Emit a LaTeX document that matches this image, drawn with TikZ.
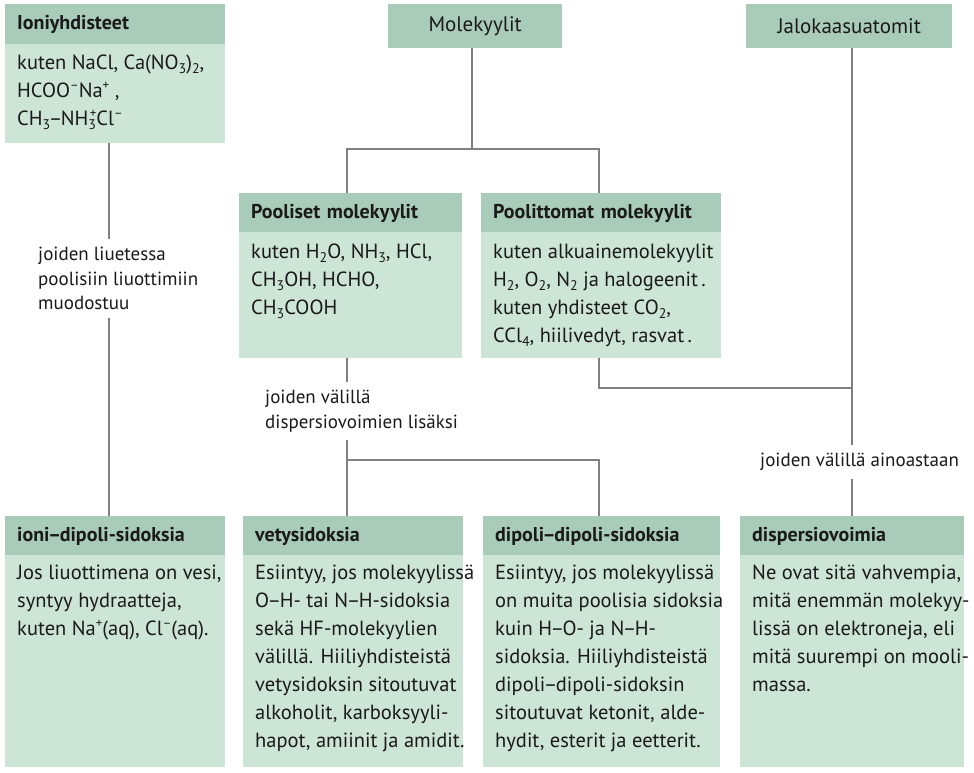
\documentclass[tikz,border=0pt]{standalone}
\usepackage{fontspec}
\setmainfont{PT Sans}
\usetikzlibrary{calc}
\definecolor{hdr}{RGB}{169,203,185}
\definecolor{bdy}{RGB}{204,229,214}
\definecolor{ln}{RGB}{128,128,128}
\definecolor{txt}{RGB}{26,26,26}
\newcommand\sub[1]{\raisebox{-4pt}{\fontsize{14}{14}\selectfont #1}}
\newcommand\sps[1]{\raisebox{8pt}{\fontsize{13}{13}\selectfont #1}}
\newcommand\subsup[2]{\makebox[0pt][l]{\sub{#1}}\hspace{1.5pt}\sps{#2}}
\newcommand\dsh{\kern-1.5pt–\kern-1.5pt}
\begin{document}
\begin{tikzpicture}[x=1pt,y=-1pt,
  hd/.style={fill=hdr, anchor=north west, inner xsep=12pt, inner ysep=0pt,
    minimum height=40pt, align=left, text=txt,
    font=\bfseries\fontsize{20}{24}\selectfont},
  tophd/.style={fill=hdr, anchor=north west, inner sep=0pt,
    minimum height=44pt, align=center, text=txt,
    font=\fontsize{21}{24}\selectfont},
  bd/.style={fill=bdy, anchor=north west, inner sep=0pt},
  bt/.style={anchor=north west, inner sep=0pt, align=left, text=txt,
    font=\fontsize{20.5}{28}\selectfont},
  lbl/.style={fill=white, anchor=north west, inner xsep=0pt, inner ysep=8pt,
    align=left, text=txt, font=\fontsize{19}{24.5}\selectfont},
  conn/.style={draw=ln, line width=2pt}
]
\useasboundingbox (0,0) rectangle (974,773);

% ---------- boxes ----------
\node[hd, text width=196pt] (ionH) at (5,4) {Ioniyhdisteet};
\node[bd, minimum width=220pt, minimum height=99pt] (ionB) at (5,44) {};
\node[tophd, minimum width=174pt] (molH) at (388,4) {Molekyylit};
\node[tophd, minimum width=206pt] (jalH) at (746,4) {Jalokaasuatomit};

\node[hd, text width=199pt] (polH) at (239,193) {Pooliset molekyylit};
\node[bd, minimum width=223pt, minimum height=126pt] (polB) at (239,232) {};
\node[hd, text width=216pt] (npoH) at (481,193) {Poolittomat molekyylit};
\node[bd, minimum width=240pt, minimum height=126pt] (npoB) at (481,232) {};

\node[hd, text width=196pt] (idH) at (5,516) {ioni\dsh dipoli-sidoksia};
\node[bd, minimum width=220pt, minimum height=212pt] (idB) at (5,555) {};
\node[hd, text width=196pt] (vetH) at (243,516) {vetysidoksia};
\node[bd, minimum width=220pt, minimum height=212pt] (vetB) at (243,555) {};
\node[hd, text width=213pt] (ddH) at (483,516) {dipoli\dsh dipoli-sidoksia};
\node[bd, minimum width=237pt, minimum height=212pt] (ddB) at (483,555) {};
\node[hd, text width=200pt] (dsH) at (740,516) {dispersiovoimia};
\node[bd, minimum width=224pt, minimum height=212pt] (dsB) at (740,555) {};

% ---------- connectors ----------
\coordinate (mj) at ($(molH.south)+(-3,101)$);
\draw[conn] ($(molH.south)+(-3,0)$) -- (mj);
\draw[conn] ($(polH.north)+(-3.5,0)$) |- (mj) -| ($(npoH.north)+(-2,0)$);

\coordinate (pj) at ($(polB.south)+(-3.5,102)$);
\draw[conn] ($(polB.south)+(-3.5,0)$) -- (pj);
\draw[conn] ($(vetH.north)+(-6,0)$) |- (pj) -| ($(ddH.north)+(-2.5,0)$);

\coordinate (nj) at ($(jalH.south)+(3,340)$);
\draw[conn] ($(jalH.south)+(3,0)$) -- ($(dsH.north)$);
\draw[conn] ($(npoB.south)+(-2,0)$) |- (nj);

\draw[conn] ($(ionB.south)+(-6,0)$) -- ($(idH.north)+(-6,0)$);

% ---------- labels ----------
\node[lbl] (l1) at (38,239) {joiden liuetessa\\poolisiin liuottimiin\\muodostuu};
\node[lbl] (l2) at (265,382) {joiden välillä\\dispersiovoimien lisäksi};
\node[lbl] (l3) at (760,445) {joiden välillä ainoastaan};

% ---------- body texts ----------
\node[bt] (ionT) at ($(ionB.north west)+(12,11)$)
  {kuten NaCl, Ca(NO\sub{3})\sub{2},\\HCOO\sps{–}Na\sps{+} ,\\CH\sub{3}\dsh NH\subsup{3}{+}Cl\sps{–}};
\node[bt] (polT) at ($(polB.north west)+(12,12)$)
  {kuten H\sub{2}O, NH\sub{3}, HCl,\\CH\sub{3}OH, HCHO,\\CH\sub{3}COOH};
\node[bt] (npoT) at ($(npoB.north west)+(12,12)$)
  {kuten alkuainemolekyylit\\H\sub{2}, O\sub{2}, N\sub{2} ja halogeenit\,.\\kuten yhdisteet CO\sub{2},\\CCl\sub{4}, hiilivedyt, rasvat\,.};
\node[bt] (idT) at ($(idB.north west)+(12,10)$)
  {Jos liuottimena on vesi,\\syntyy hydraatteja,\\kuten Na\sps{+}(aq), Cl\sps{–}(aq).};
\node[bt] (vetT) at ($(vetB.north west)+(12,10)$)
  {Esiintyy, jos molekyylissä\\O\dsh H- tai N\dsh H-sidoksia\\sekä HF-molekyylien\\välillä. Hiiliyhdisteistä\\vetysidoksin sitoutuvat\\alkoholit, karboksyyli-\\hapot, amiinit ja amidit.};
\node[bt] (ddT) at ($(ddB.north west)+(12,10)$)
  {Esiintyy, jos molekyylissä\\on muita poolisia sidoksia\\kuin H\dsh O- ja N\dsh H-\\sidoksia. Hiiliyhdisteistä\\dipoli\dsh dipoli-sidoksin\\sitoutuvat ketonit, alde-\\hydit, esterit ja eetterit.};
\node[bt] (dsT) at ($(dsB.north west)+(12,10)$)
  {Ne ovat sitä vahvempia,\\mitä enemmän molekyy-\\lissä on elektroneja, eli\\mitä suurempi on mooli-\\massa.};
\end{tikzpicture}
\end{document}
